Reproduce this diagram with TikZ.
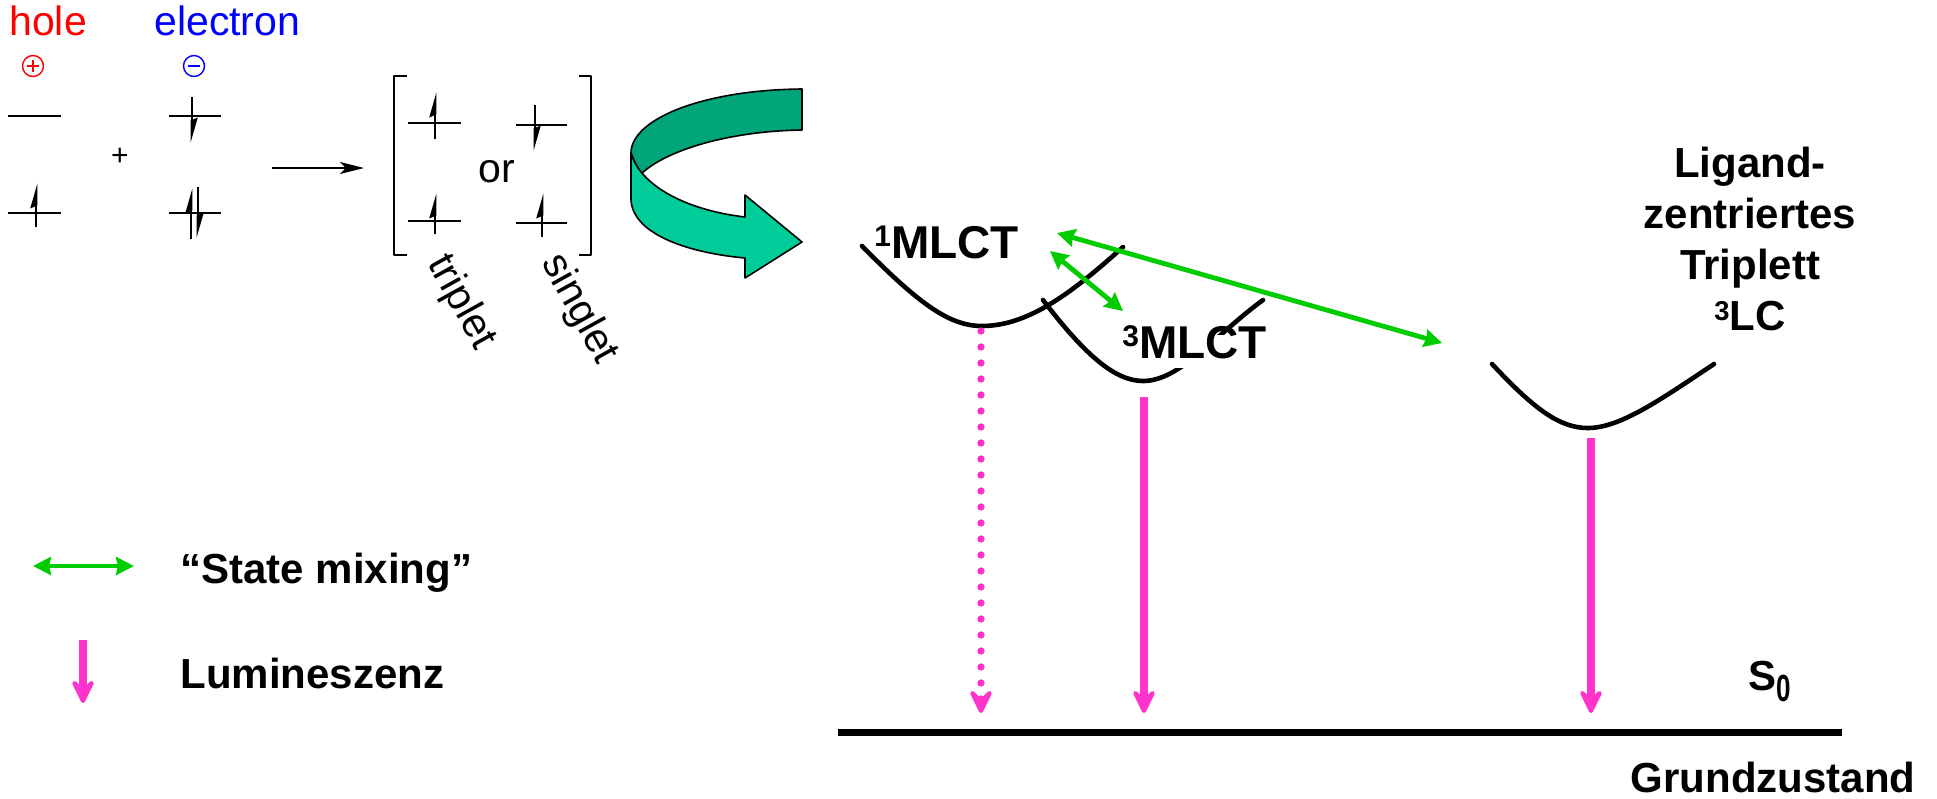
\documentclass[tikz,border=0pt]{standalone}
\usepackage{graphicx}
\usepackage{fontspec}
\setmainfont{Liberation Sans}
\usetikzlibrary{arrows.meta,positioning,calc}
\definecolor{holered}{HTML}{FF0000}
\definecolor{elecblue}{HTML}{0000FF}
\definecolor{mixgreen}{HTML}{00CC00}
\definecolor{lumpink}{HTML}{FF33CC}
\definecolor{ribbondark}{HTML}{00A67A}
\definecolor{ribbonlight}{HTML}{00CC99}
\newcommand{\supnum}[1]{\raisebox{0.25em}{\scalebox{0.65}{#1}}}
\newcommand{\subnum}[1]{\raisebox{-0.28em}{\scalebox{0.62}[0.9]{#1}}}

\tikzset{
  plaintext/.style={font=\fontsize{20.5}{24}\selectfont, inner sep=0pt},
  boldlbl/.style={font=\fontsize{21}{25}\selectfont\bfseries, inner sep=0pt},
  statelbl/.style={font=\fontsize{23}{27}\selectfont\bfseries, inner sep=0pt},
  level/.style={line width=1pt},
  spinarrow/.style={line width=1.4pt, -{Stealth[harpoon,length=10pt,width=5.5pt,inset=1pt]}},
  signring/.style={circle, draw=#1, line width=0.7pt, minimum size=10.5pt, inner sep=0pt},
  plusring/.style={signring=#1, path picture={
      \draw[#1, line width=0.7pt] ([xshift=-3pt]path picture bounding box.center) -- ([xshift=3pt]path picture bounding box.center);
      \draw[#1, line width=0.7pt] ([yshift=-3pt]path picture bounding box.center) -- ([yshift=3pt]path picture bounding box.center);}},
  minusring/.style={signring=#1, path picture={
      \draw[#1, line width=0.7pt] ([xshift=-3pt]path picture bounding box.center) -- ([xshift=3pt]path picture bounding box.center);}},
  rxnarrow/.style={line width=1pt, -{Stealth[length=12pt,width=6pt,inset=3pt]}},
  pes/.style={line width=2.3pt, line cap=round},
  mixarrow/.style={mixgreen, line width=2.4pt, {Stealth[length=9pt,width=9pt,inset=1pt]}-{Stealth[length=9pt,width=9pt,inset=1pt]}},
  lumarrow/.style={lumpink, line width=3.7pt, -{Stealth[length=16.5pt,width=16pt,inset=8pt,round]}},
  dotline/.style={line cap=round, dash pattern=on 0pt off 8pt},
}

\begin{document}
\begin{tikzpicture}[x=0.5pt,y=-0.5pt,line join=round]
  \useasboundingbox (0,0) rectangle (1937,798);

  % Loch und Elektron
  \node[plaintext, text=holered, anchor=base west] (hole) at (9,35) {hole};
  \node[plaintext, text=elecblue, anchor=base west] (electron) at (154,35) {electron};
  \node[plusring=holered] (holesign) at (33,66) {};
  \node[minusring=elecblue] (elecsign) at (194,66) {};
  \node[font=\fontsize{15}{15}\selectfont, inner sep=0pt] (plus) at (120,157) {+};

  % Orbitale und Spins
  \foreach \xa/\xb/\y in {8/61/116, 8/61/213, 169/221/116, 169/221/213,
                          408/461/123, 408/461/221, 516/567/125, 516/567/223}{
    \draw[level] (\xa,\y) -- (\xb,\y);
  }
  \foreach \x/\ya/\yb in {36/227/183, 192/97/143, 191/239/188, 198/187/238,
                          435/139/92, 435/234/193, 535/105/151, 542/237/193}{
    \draw[spinarrow] (\x,\ya) -- (\x,\yb);
  }

  \coordinate (rxnstart) at (272,168);
  \coordinate (rxnend) at (364,168);
  \draw[rxnarrow] (rxnstart) -- (rxnend);

  % Klammer
  \draw[level] (407,76) -- (394,76) -- (394,255) -- (407,255);
  \draw[level] (579,76) -- (591,76) -- (591,255) -- (579,255);
  \node[plaintext] (or) at (497,172) {or};
  \node[plaintext, rotate=-61] (triplet) at (461,302) {triplet};
  \node[plaintext, rotate=-61] (singlet) at (579,309) {singlet};

  % Band-Pfeil
  \filldraw[fill=ribbondark, draw=black, line width=0.8pt]
    (802,89) .. controls (700,90) and (631,120) .. (631,153) -- (640,175)
    .. controls (665,150) and (730,131) .. (802,130) -- cycle;
  \filldraw[fill=ribbonlight, draw=black, line width=0.8pt]
    (631,153) -- (631,200) .. controls (633,235) and (690,253) .. (745,258)
    -- (745,278) -- (802,242) -- (745,195) -- (745,217)
    .. controls (685,210) and (640,185) .. cycle;

  % Potentialkurven
  \coordinate (min1) at (982,326);
  \coordinate (min3) at (1143,381);
  \coordinate (minlc) at (1588,428);
  \draw[pes] (862,246) .. controls (920,305) and (950,326) .. (min1)
    .. controls (1030,326) and (1075,290) .. (1123,247);
  \draw[pes] (1043,300) .. controls (1085,355) and (1115,381) .. (min3)
    .. controls (1180,381) and (1215,335) .. (1263,300);
  \draw[pes] (1492,364) .. controls (1535,410) and (1560,428) .. (minlc)
    .. controls (1620,428) and (1660,400) .. (1714,364);

  \node[statelbl, anchor=base west] (mlct1) at (874,258) {\supnum{1}MLCT};
  \node[statelbl, anchor=base west, fill=white, inner sep=2pt, text height=0.95em, text depth=3pt] (mlct3) at (1118,358) {\supnum{3}MLCT};
  \node[boldlbl, font=\fontsize{21}{25.5}\selectfont\bfseries, align=center, anchor=north] (lc) at (1750,147)
    {Ligand-\\zentriertes\\Triplett\\\supnum{3}LC};

  % Lumineszenz
  \coordinate (s1top) at (981,331);
  \coordinate (s1tip) at (981,713);
  \coordinate (t1top) at (1144,397);
  \coordinate (t1tip) at (1144,713);
  \coordinate (lctop) at (1591,438);
  \coordinate (lctip) at (1591,713);
  \draw[lumarrow, dotline] (s1top) -- (s1tip);
  \draw[lumarrow] (t1top) -- (t1tip);
  \draw[lumarrow] (lctop) -- (lctip);

  % State mixing
  \coordinate (mixa1) at (1050,251);
  \coordinate (mixb1) at (1123,311);
  \coordinate (mixa2) at (1057,233);
  \coordinate (mixb2) at (1442,343);
  \draw[mixarrow] (mixa1) -- (mixb1);
  \draw[mixarrow] (mixa2) -- (mixb2);

  % Grundzustand
  \coordinate (grounda) at (838,732);
  \coordinate (groundb) at (1842,732);
  \draw[line width=3.5pt] (grounda) -- (groundb);
  \node[boldlbl, anchor=base west] (szero) at (1748,690) {S\subnum{0}};
  \node[boldlbl, anchor=base east] (ground) at (1916,792) {Grundzustand};

  % Legende
  \coordinate (legmixa) at (33,566);
  \coordinate (legmixb) at (134,566);
  \draw[mixarrow] (legmixa) -- (legmixb);
  \node[boldlbl, anchor=base west] (mixtext) at (180,583) {“State mixing”};
  \coordinate (leguma) at (83,640);
  \coordinate (legumb) at (83,703);
  \draw[lumarrow] (leguma) -- (legumb);
  \node[boldlbl, anchor=base west] (lumtext) at (180,688) {Lumineszenz};
\end{tikzpicture}
\end{document}
